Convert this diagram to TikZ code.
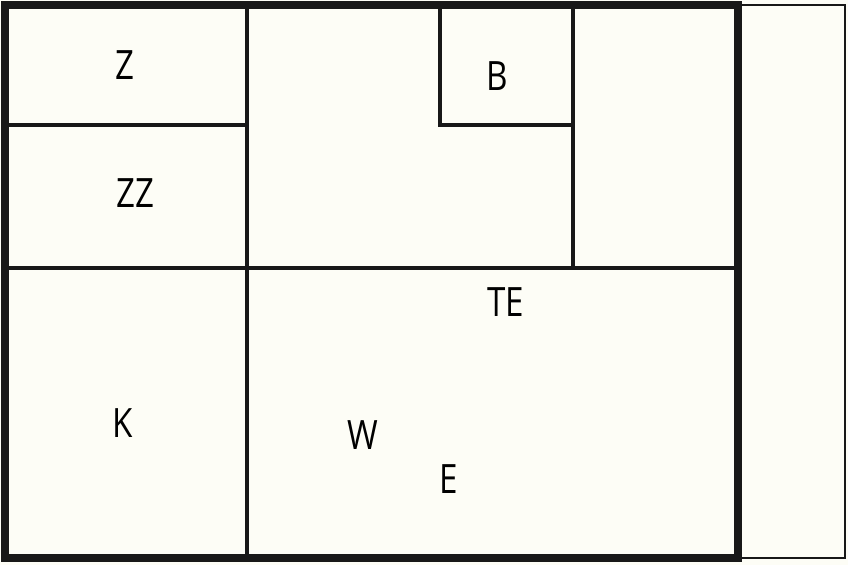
\documentclass[tikz,border=0pt]{standalone}
\usepackage{fontspec}
\setsansfont{Open Sans}
\usepackage{xcolor}
\usepackage{graphicx}
\usepackage{tikz}
\usetikzlibrary{positioning}

\definecolor{paper}{RGB}{253,253,246}
\definecolor{ink}{RGB}{24,24,24}

\newcommand{\roomname}[1]{\scalebox{0.82}[1]{#1}}

\begin{document}
\begin{tikzpicture}[x=0.02cm, y=-0.02cm]
		\tikzstyle{outerwall} = [draw=ink, line width=5pt, line join=miter]
		\tikzstyle{wall} = [draw=ink, line width=2.3pt, line cap=rect]
		\tikzstyle{thinwall} = [draw=ink, line width=1.2pt]
		\tikzstyle{room} = [anchor=base, inner sep=0pt, font=\sffamily\fontsize{23}{26}\selectfont, text=black]
		
		% paper
		\fill[paper] (0, 0) rectangle (848, 565);
		\useasboundingbox (0, 0) rectangle (848, 565);
		
		% annex on the right
		\draw[thinwall] (738, 5) rectangle (845, 558);
		
		% inner walls
		\draw[wall] (247, 5) -- (247, 558);
		\draw[wall] (5, 125) -- (247, 125);
		\draw[wall] (5, 268) -- (738, 268);
		\draw[wall] (573, 5) -- (573, 268);
		\draw[wall] (440, 5) -- (440, 125) -- (573, 125);
		
		% outer walls
		\draw[outerwall] (5, 5) rectangle (738, 558);
		
		% room labels
		\node[room] 	at (124.5, 79)	(z) 	{\roomname{Z}};
		\node[room] 	at (135, 207)	(zz) 	{\roomname{ZZ}};
		\node[room] 	at (497.5, 90)	(b) 	{\roomname{B}};
		\node[room] 	at (506, 316)	(te) 	{\roomname{TE}};
		\node[room] 	at (123, 437)	(k) 	{\roomname{K}};
		\node[room] 	at (362.5, 449)	(w) 	{\roomname{W}};
		\node[room] 	at (448.5, 493)	(e) 	{\roomname{E}};
	\end{tikzpicture}
\end{document}
